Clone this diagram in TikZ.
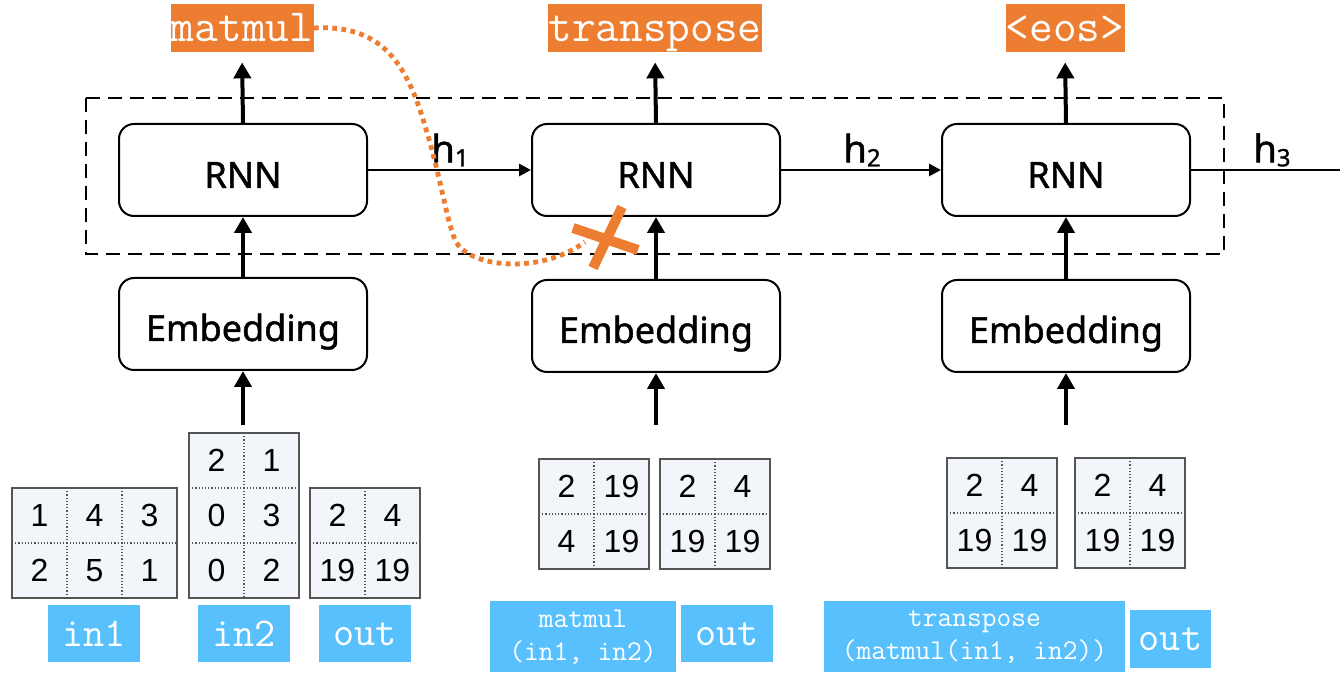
\documentclass[tikz,border=0pt]{standalone}
\usepackage{fontspec}
\setmainfont{Noto Sans}
\newfontfamily\blkfont[FakeBold=1.3]{Noto Sans}
\newfontfamily\numfont{Liberation Sans}
\usetikzlibrary{arrows.meta}
\definecolor{orng}{HTML}{ED7D31}
\definecolor{skyb}{HTML}{58C0FC}
\definecolor{cellbg}{HTML}{F2F5FA}
\definecolor{gridc}{HTML}{555555}
\newcommand\mymat[5]{%
  \fill[cellbg] (#1,#2) rectangle ++(#3*55,#4*55);
  \pgfmathtruncatemacro\cm{#3-1}
  \pgfmathtruncatemacro\rm{#4-1}
  \foreach \c in {1,...,\cm} {\draw[gridc,densely dotted,line width=0.6pt] (#1+\c*55,#2) -- ++(0,#4*55);}
  \foreach \r in {1,...,\rm} {\draw[gridc,densely dotted,line width=0.6pt] (#1,#2+\r*55) -- ++(#3*55,0);}
  \draw[gridc,line width=0.7pt] (#1,#2) rectangle ++(#3*55,#4*55);
  \foreach \v [count=\i from 0] in {#5} {
    \pgfmathtruncatemacro\cc{mod(\i,#3)}
    \pgfmathtruncatemacro\rr{div(\i,#3)}
    \node[num] at (#1+\cc*55+27.5,#2+\rr*55+27.5) {\v};
  }%
}
\newcommand\lowr[2]{\raisebox{-#1}[0pt][0pt]{#2}}
\begin{document}
\begin{tikzpicture}[x=0.5pt,y=-0.5pt,
  blk/.style={draw,line width=1pt,rounded corners=7.5pt,minimum width=124pt,minimum height=46pt,inner sep=0pt,font=\blkfont\fontsize{18}{20}\selectfont},
  olab/.style={fill=orng,text=white,inner sep=0pt,minimum height=24pt,font=\ttfamily\fontsize{23}{24}\selectfont},
  blab/.style={fill=skyb,text=white,inner sep=0pt,align=center},
  bigc/.style={font=\ttfamily\fontsize{20.5}{22}\selectfont},
  smallc/.style={font=\ttfamily\fontsize{14.3}{16.5}\selectfont},
  num/.style={font=\numfont\fontsize{16}{18}\selectfont,inner sep=0pt},
  varr/.style={line width=2pt,-{Triangle[length=8pt,width=8.5pt]}},
  harr/.style={line width=1.4pt,-{Triangle[length=6pt,width=6pt]}},
  hlab/.style={font=\blkfont\fontsize{19}{21}\selectfont,inner sep=0pt},
  dotc/.style={orng,line width=2.4pt,dash pattern=on 2.4pt off 2.2pt},
]
\useasboundingbox (0,0) rectangle (1340,673);

% dashed frame
\draw[line width=1pt,dash pattern=on 7pt off 4pt] (86,98) rectangle (1224,254);

% RNN and Embedding blocks
\node[blk] (rnn1) at (243,170) {\lowr{8.9pt}{RNN}};
\node[blk] (rnn2) at (656,170) {\lowr{8.9pt}{RNN}};
\node[blk] (rnn3) at (1066,170) {\lowr{8.9pt}{RNN}};
\node[blk] (emb1) at (243,324) {\lowr{8.5pt}{Embedding}};
\node[blk] (emb2) at (656,326) {\lowr{8.5pt}{Embedding}};
\node[blk] (emb3) at (1066,326) {\lowr{8.5pt}{Embedding}};

% outputs
\node[olab,minimum width=71.5pt] (o1) at (242,28) {\lowr{7pt}{matmul}};
\node[olab,minimum width=107pt] (o2) at (655,28) {\lowr{7pt}{transpose}};
\node[olab,minimum width=59.5pt] (o3) at (1065,28) {\lowr{7pt}{<eos>}};

\draw[varr,shorten >=5pt] (rnn1.north) -- (o1.south);
\draw[varr,shorten >=5pt] (rnn2.north) -- (o2.south);
\draw[varr,shorten >=5pt] (rnn3.north) -- (o3.south);

\draw[varr] (emb1.north) -- (rnn1.south);
\draw[varr] (emb2.north) -- (rnn2.south);
\draw[varr] (emb3.north) -- (rnn3.south);

\coordinate (s1) at (243,425);
\coordinate (s2) at (656,425);
\coordinate (s3) at (1066,425);
\draw[varr] (s1) -- (emb1.south);
\draw[varr] (s2) -- (emb2.south);
\draw[varr] (s3) -- (emb3.south);

% hidden states
\draw[harr] (rnn1.east) -- (rnn2.west);
\draw[harr] (rnn2.east) -- (rnn3.west);
\coordinate (hend) at (1340,170);
\draw[line width=1.4pt] (rnn3.east) -- (hend);
\node[hlab] (h1) at (450,150) {h\raisebox{-0.2ex}{\fontsize{12}{12}\selectfont 1}};
\node[hlab] (h2) at (862,150) {h\raisebox{-0.2ex}{\fontsize{12}{12}\selectfont 2}};
\node[hlab] (h3) at (1272,150) {h\raisebox{-0.2ex}{\fontsize{12}{12}\selectfont 3}};

% orange dotted skip path and cross
\draw[dotc] (o1.east) .. controls (370,25) and (400,50) .. (420,110)
  .. controls (440,170) and (445,215) .. (455,240)
  .. controls (468,268) and (540,275) .. (585,242);
\coordinate (xm) at (605,238);
\draw[orng,line width=5pt] (573,228) -- (638,250);
\draw[orng,line width=5pt] (622,207) -- (593,268);

% matrices
\mymat{12}{488}{3}{2}{1,4,3,2,5,1}
\mymat{189}{433}{2}{3}{2,1,0,3,0,2}
\mymat{310}{488}{2}{2}{2,4,19,19}
\mymat{539}{459}{2}{2}{2,19,4,19}
\mymat{660}{459}{2}{2}{2,4,19,19}
\mymat{947}{458}{2}{2}{2,4,19,19}
\mymat{1075}{458}{2}{2}{2,4,19,19}

% blue labels
\node[blab,bigc,minimum width=46pt,minimum height=28.5pt] (l1) at (94,634) {in1};
\node[blab,bigc,minimum width=46pt,minimum height=28.5pt] (l2) at (244,634) {in2};
\node[blab,bigc,minimum width=46pt,minimum height=28.5pt] (l3) at (365,634) {out};
\node[blab,smallc,minimum width=93pt,minimum height=35.5pt] (l4) at (583,637) {matmul\\(in1, in2)};
\node[blab,bigc,minimum width=46pt,minimum height=28.5pt] (l5) at (727,634) {out};
\node[blab,smallc,minimum width=150.5pt,minimum height=35.5pt] (l6) at (974.5,637) {transpose\\(matmul(in1, in2))};
\node[blab,bigc,minimum width=40.5pt,minimum height=29pt] (l7) at (1170.5,639) {out};
\end{tikzpicture}
\end{document}
